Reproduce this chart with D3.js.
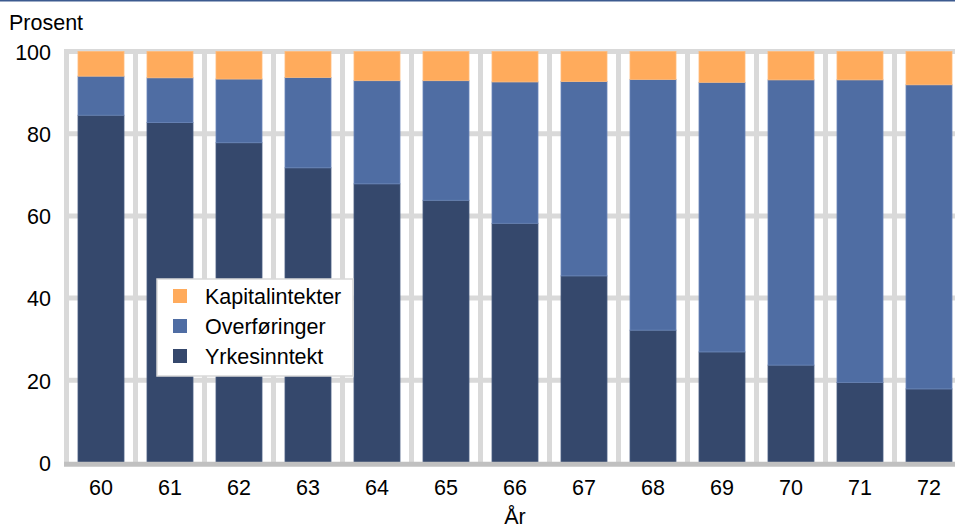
<!DOCTYPE html>
<html>
<head>
<meta charset="utf-8">
<script src="https://cdn.jsdelivr.net/npm/d3@7"></script>
<style>
  html, body { margin: 0; padding: 0; background: #fff; }
  svg { display: block; font-family: "Liberation Sans", Arial, sans-serif; }
</style>
</head>
<body>
<svg id="chart" width="955" height="529"></svg>
<script>
// ---- Data ----
const years = ["60","61","62","63","64","65","66","67","68","69","70","71","72"];
const yrkesinntekt = [84.5, 82.7, 77.8, 71.7, 67.8, 63.8, 58.2, 45.4, 32.2, 26.9, 23.7, 19.5, 17.9];
const overforinger  = [9.5, 10.9, 15.5, 22.0, 25.1, 29.1, 34.4, 47.3, 61.0, 65.6, 69.4, 73.6, 74.0];
const kapitalintekter = [6.0, 6.4, 6.7, 6.3, 7.1, 7.1, 7.4, 7.3, 6.8, 7.5, 6.9, 6.9, 8.1];
const yTicks = [0, 20, 40, 60, 80, 100];
const seriesNames = ["Yrkesinntekt", "Overføringer", "Kapitalintekter"];
const legendOrder = ["Kapitalintekter", "Overføringer", "Yrkesinntekt"];
const colors = {"Yrkesinntekt": "#35486c", "Overføringer": "#4f6da3", "Kapitalintekter": "#ffab5c"};
const strokes = {"Yrkesinntekt": "#4a5d82", "Overføringer": "#6a86b8", "Kapitalintekter": "#ffbb7a"};
const FS = 21.5;

const svg = d3.select("#chart");

// top border line
svg.append("rect").attr("x", 0).attr("y", 0).attr("width", 955).attr("height", 1.5).attr("fill", "#3c5a8f");

const step = 69;
const x = d3.scaleBand().domain(years).range([66.5, 66.5 + step * years.length])
  .paddingInner(1/3).paddingOuter(1/6);
const y = d3.scaleLinear().domain([0, 100]).range([462.5, 51.5]);

const rows = years.map((yr, i) => ({
  year: yr,
  "Yrkesinntekt": yrkesinntekt[i],
  "Overføringer": overforinger[i],
  "Kapitalintekter": kapitalintekter[i]
}));
const stacked = d3.stack().keys(seriesNames)(rows);

const grid = svg.append("g").attr("stroke", "#d9d9d9").attr("stroke-width", 5);
grid.selectAll("line.h").data(yTicks.filter(d => d > 0)).join("line")
  .attr("x1", 64).attr("x2", 970)
  .attr("y1", d => y(d)).attr("y2", d => y(d));
const x0 = x.range()[0];
grid.selectAll("line.v").data(d3.range(years.length + 1)).join("line")
  .attr("x1", i => x0 + i * x.step()).attr("x2", i => x0 + i * x.step())
  .attr("y1", y(100) - 2.5).attr("y2", y(0));

// bars
svg.append("g").selectAll("g").data(stacked).join("g")
  .attr("fill", d => colors[d.key])
  .attr("stroke", d => strokes[d.key])
  .attr("stroke-width", 0.8)
  .selectAll("rect").data(d => d).join("rect")
  .attr("x", d => x(d.data.year))
  .attr("width", x.bandwidth())
  .attr("y", d => y(d[1]))
  .attr("height", d => y(d[0]) - y(d[1]));

// bottom axis line
svg.append("line").attr("x1", 64).attr("x2", 970)
  .attr("y1", y(0) + 1.7).attr("y2", y(0) + 1.7)
  .attr("stroke", "#c0c0c0").attr("stroke-width", 5);

// y axis labels
const yAxis = svg.append("g").attr("transform", `translate(66,0)`)
  .call(d3.axisLeft(y).tickValues(yTicks).tickSize(0).tickPadding(15));
yAxis.select(".domain").remove();
yAxis.selectAll("text").attr("font-size", FS).attr("fill", "#000")
  .attr("font-family", "Liberation Sans, Arial, sans-serif").attr("dy", "0.36em");

// x axis labels
const xAxis = svg.append("g").attr("transform", `translate(0,${y(0)})`)
  .call(d3.axisBottom(x).tickSize(0).tickPadding(17.5));
xAxis.select(".domain").remove();
xAxis.selectAll("text").attr("font-size", FS).attr("fill", "#000")
  .attr("font-family", "Liberation Sans, Arial, sans-serif");

// titles
svg.append("text").attr("x", 9).attr("y", 30).attr("font-size", FS).attr("fill", "#000").text("Prosent");
svg.append("text").attr("x", 515).attr("y", 524).attr("text-anchor", "middle")
  .attr("font-size", FS).attr("fill", "#000").text("År");

// legend
const lg = svg.append("g");
lg.append("rect").attr("x", 157).attr("y", 279).attr("width", 196).attr("height", 97)
  .attr("fill", "#fff").attr("stroke", "#d9d9d9").attr("stroke-width", 1.5);
const items = lg.selectAll("g.item").data(legendOrder).join("g")
  .attr("transform", (d, i) => `translate(0,${296 + i * 30})`);
items.append("rect").attr("x", 173).attr("y", -7).attr("width", 14).attr("height", 14)
  .attr("fill", d => colors[d]);
items.append("text").attr("x", 205).attr("y", 0).attr("dy", "0.36em")
  .attr("font-size", FS).attr("fill", "#000").text(d => d);
</script>
</body>
</html>
